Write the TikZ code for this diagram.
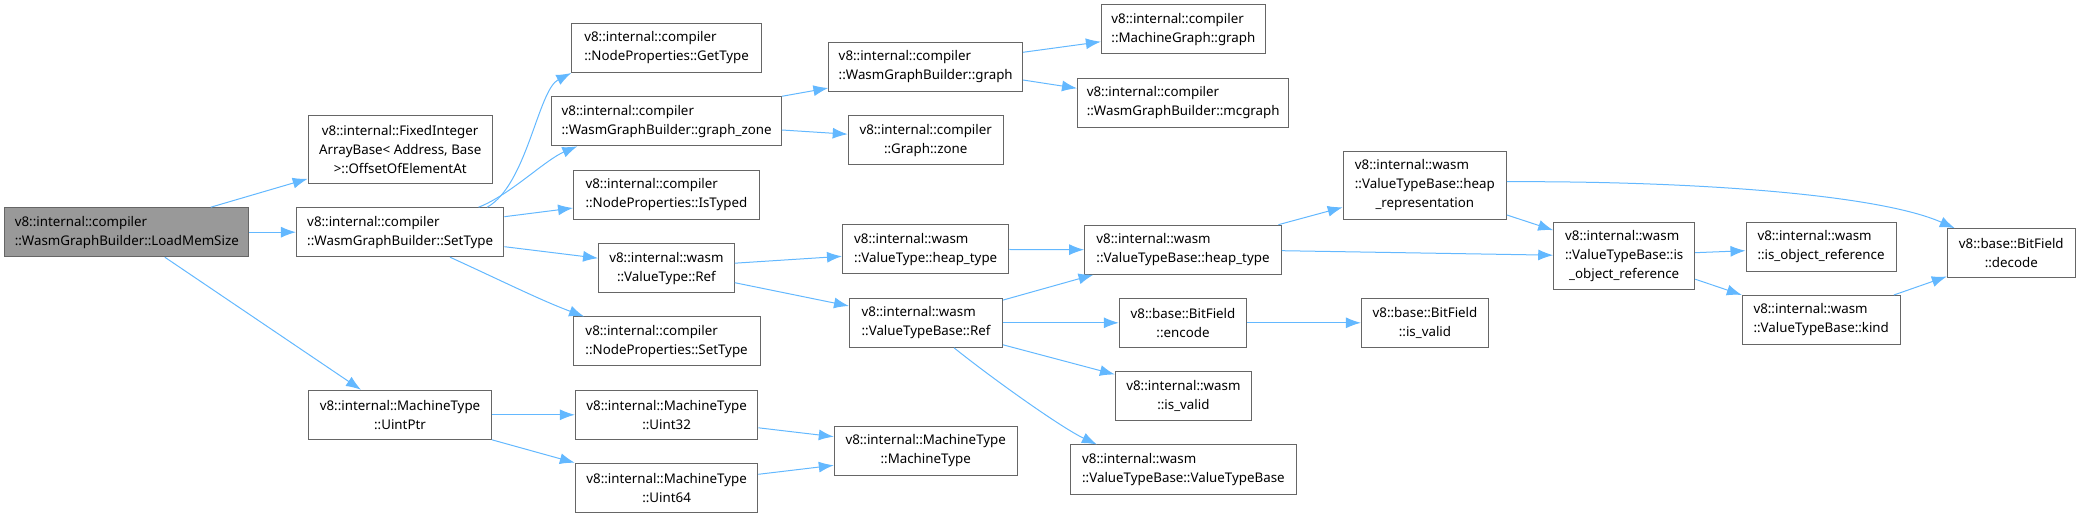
\documentclass[tikz,border=0pt]{standalone}
\usepackage{fontspec}
\setmainfont{Noto Sans}[Ligatures={NoCommon}]
\usetikzlibrary{arrows.meta,calc}
\definecolor{arrowc}{HTML}{63B8FF}
\definecolor{borderc}{HTML}{666666}
\definecolor{fillc}{HTML}{999999}
\newcommand\lpad[2]{\setbox0\hbox{#2}\makebox[\wd0][l]{#1}}
\tikzset{
  fnbox/.style={draw=borderc, line width=1pt, fill=white, inner sep=0pt, minimum height=49pt,
    font=\fontsize{13.33}{19}\selectfont},
  twoline/.style={minimum height=49pt},
  threeline/.style={minimum height=67.6pt},
  root/.style={fill=fillc},
  edge/.style={draw=arrowc, line width=1pt, -{Latex[length=15pt,width=11pt]}},
}
\begin{document}
\begin{tikzpicture}[x=1pt,y=-1pt]
\useasboundingbox (0,0) rectangle (2081,518);
% column 0
\node[fnbox,root,align=left,minimum width=244.3pt] (lms) at (126.8,232.2) {v8::internal::compiler\\::WasmGraphBuilder::LoadMemSize};
% column 1
\node[fnbox,threeline,align=center,minimum width=184pt] (fixed) at (400.2,149.5) {v8::internal::FixedInteger\\ArrayBase< Address, Base\\>::OffsetOfElementAt};
\node[fnbox,align=left,minimum width=207.5pt] (settype) at (400.2,232.2) {v8::internal::compiler\\::WasmGraphBuilder::SetType};
\node[fnbox,align=center,minimum width=182.8pt] (uintptr) at (400,414.8) {v8::internal::MachineType\\::UintPtr};
% column 2
\node[fnbox,align=left,minimum width=189.6pt] (gettype) at (666.6,48) {v8::internal::compiler\\::NodeProperties::GetType};
\node[fnbox,align=left,minimum width=229.6pt] (gz) at (666.6,121.3) {v8::internal::compiler\\::WasmGraphBuilder::graph\_zone};
\node[fnbox,align=left,minimum width=185.7pt] (istyped) at (666.4,195) {v8::internal::compiler\\::NodeProperties::IsTyped};
\node[fnbox,align=center,minimum width=135.7pt] (vtref) at (666.4,268.2) {v8::internal::wasm\\::ValueType::Ref};
\node[fnbox,align=left,minimum width=186.8pt] (npset) at (666.6,341.5) {v8::internal::compiler\\::NodeProperties::SetType};
\node[fnbox,align=center,minimum width=182.5pt] (uint32) at (666.6,414.8) {v8::internal::MachineType\\::Uint32};
\node[fnbox,align=center,minimum width=182.5pt] (uint64) at (666.6,487.8) {v8::internal::MachineType\\::Uint64};
% column 3
\node[fnbox,align=left,minimum width=193.6pt] (wgbgraph) at (925.7,67) {v8::internal::compiler\\::WasmGraphBuilder::graph};
\node[fnbox,align=center,minimum width=155pt] (gzone) at (925.7,140.2) {v8::internal::compiler\\::Graph::zone};
\node[fnbox,align=left,minimum width=166.4pt] (vtht) at (925.7,249.5) {v8::internal::wasm\\::ValueType::heap\_type};
\node[fnbox,align=left,minimum width=153pt] (vtbref) at (926,322.8) {v8::internal::wasm\\::ValueTypeBase::Ref};
\node[fnbox,align=center,minimum width=182.8pt] (mt) at (925.7,450.7) {v8::internal::MachineType\\::MachineType};
% column 4
\node[fnbox,align=left,minimum width=164pt] (mgraph) at (1183.4,29.5) {v8::internal::compiler\\::MachineGraph::graph};
\node[fnbox,align=left,minimum width=211.4pt] (mcgraph) at (1183.2,102.8) {v8::internal::compiler\\::WasmGraphBuilder::mcgraph};
\node[fnbox,align=left,minimum width=196.8pt] (vtbht) at (1183,249.7) {v8::internal::wasm\\::ValueTypeBase::heap\_type};
\node[fnbox,align=center,minimum width=127.5pt] (encode) at (1183,322.8) {v8::base::BitField\\::encode};
\node[fnbox,align=center,minimum width=136pt] (isvalid) at (1183.4,396.2) {v8::internal::wasm\\::is\_valid};
\node[fnbox,align=left,minimum width=226pt] (vtbvtb) at (1183.4,469.5) {v8::internal::wasm\\::ValueTypeBase::ValueTypeBase};
% column 5
\node[fnbox,threeline,align=center,minimum width=163.2pt] (heaprep) at (1424.8,185.5) {\lpad{v8::internal::wasm}{::ValueTypeBase::heap}\\::ValueTypeBase::heap\\\_representation};
\node[fnbox,align=center,minimum width=127.2pt] (bfvalid) at (1425,322.8) {v8::base::BitField\\::is\_valid};
% column 6
\node[fnbox,threeline,align=center,minimum width=141pt] (vtbobj) at (1624.2,256.2) {\lpad{v8::internal::wasm}{::ValueTypeBase::is}\\::ValueTypeBase::is\\\_object\_reference};
% column 7
\node[fnbox,align=left,minimum width=150pt] (wobj) at (1821,246.7) {v8::internal::wasm\\::is\_object\_reference};
\node[fnbox,align=left,minimum width=157.7pt] (kind) at (1821.2,320) {v8::internal::wasm\\::ValueTypeBase::kind};
% column 8
\node[fnbox,align=center,minimum width=128pt] (decode) at (2011.3,253.2) {v8::base::BitField\\::decode};

% edges
\draw[edge] ($(lms.north)+(84,0)$) -- ($(fixed.south west)+(0,-5)$);
\draw[edge] (lms.east) -- (settype.west);
\draw[edge] ($(lms.south)+(38,0)$) -- ($(uintptr.north)+(-39,0)$);
\draw[edge] ($(settype.north)+(87,0)$) .. controls (527,185) and (538,90) .. ($(gettype.south west)+(0,0)$);
\draw[edge] ($(settype.north)+(78.4,0)$) .. controls (510,195) and (545,160) .. ($(gz.south west)+(26,0)$);
\draw[edge] ($(settype.east)+(0,-15.5)$) -- ($(istyped.west)+(0,13)$);
\draw[edge] ($(settype.east)+(0,14.5)$) -- ($(vtref.west)+(0,-10)$);
\draw[edge] ($(settype.south)+(49.8,0)$) .. controls (500,280) and (540,300) .. ($(npset.north west)+(11.4,0)$);
\draw[edge] ($(gz.north east)+(0,0)$) -- ($(wgbgraph.south west)+(0,-4)$);
\draw[edge] ($(gz.east)+(0,8.7)$) -- ($(gzone.west)+(0,-6)$);
\draw[edge] ($(wgbgraph.east)+(0,-14.7)$) -- ($(mgraph.west)+(0,12.2)$);
\draw[edge] ($(wgbgraph.east)+(0,13)$) -- ($(mcgraph.west)+(0,-14.5)$);
\draw[edge] ($(vtref.east)+(0,-5)$) -- ($(vtht.west)+(0,6.8)$);
\draw[edge] ($(vtref.east)+(0,14.5)$) -- ($(vtbref.west)+(0,-16.8)$);
\draw[edge] (vtht.east) -- (vtbht.west);
\draw[edge] ($(vtbref.north east)+(0,2.3)$) -- ($(vtbht.south west)+(9.4,0)$);
\draw[edge] (vtbref.east) -- (encode.west);
\draw[edge] ($(vtbref.east)+(0,22)$) -- ($(isvalid.north west)+(0,3.3)$);
\draw[edge] ($(vtbref.south)+(28,0)$) .. controls (989,376) and (1060,427) .. ($(vtbvtb.north west)+(27,0)$);
\draw[edge] ($(vtbht.north east)+(-3.5,0)$) -- ($(heaprep.west)+(0,21.8)$);
\draw[edge] ($(vtbht.east)+(0,1)$) -- ($(vtbobj.west)+(0,-1)$);
\draw[edge] ($(heaprep.east)+(0,29.5)$) -- ($(vtbobj.west)+(0,-26)$);
\draw[edge] ($(heaprep.east)+(0,-3.8)$) .. controls (1700,181) and (1880,195) .. ($(decode.north west)+(8,0)$);
\draw[edge] (encode.east) -- (bfvalid.west);
\draw[edge] ($(vtbobj.east)+(0,-3.5)$) -- ($(wobj.west)+(0,4)$);
\draw[edge] ($(vtbobj.east)+(0,23)$) -- (kind.north west);
\draw[edge] ($(kind.north east)+(-6.7,0)$) -- ($(decode.south west)+(0,-1.7)$);
\draw[edge] (uintptr.east) -- (uint32.west);
\draw[edge] (uintptr.south east) -- (uint64.north west);
\draw[edge] ($(uint32.east)+(0,13)$) -- ($(mt.west)+(0,-14)$);
\draw[edge] ($(uint64.east)+(0,-13.5)$) -- ($(mt.west)+(0,14.6)$);
\end{tikzpicture}
\end{document}
